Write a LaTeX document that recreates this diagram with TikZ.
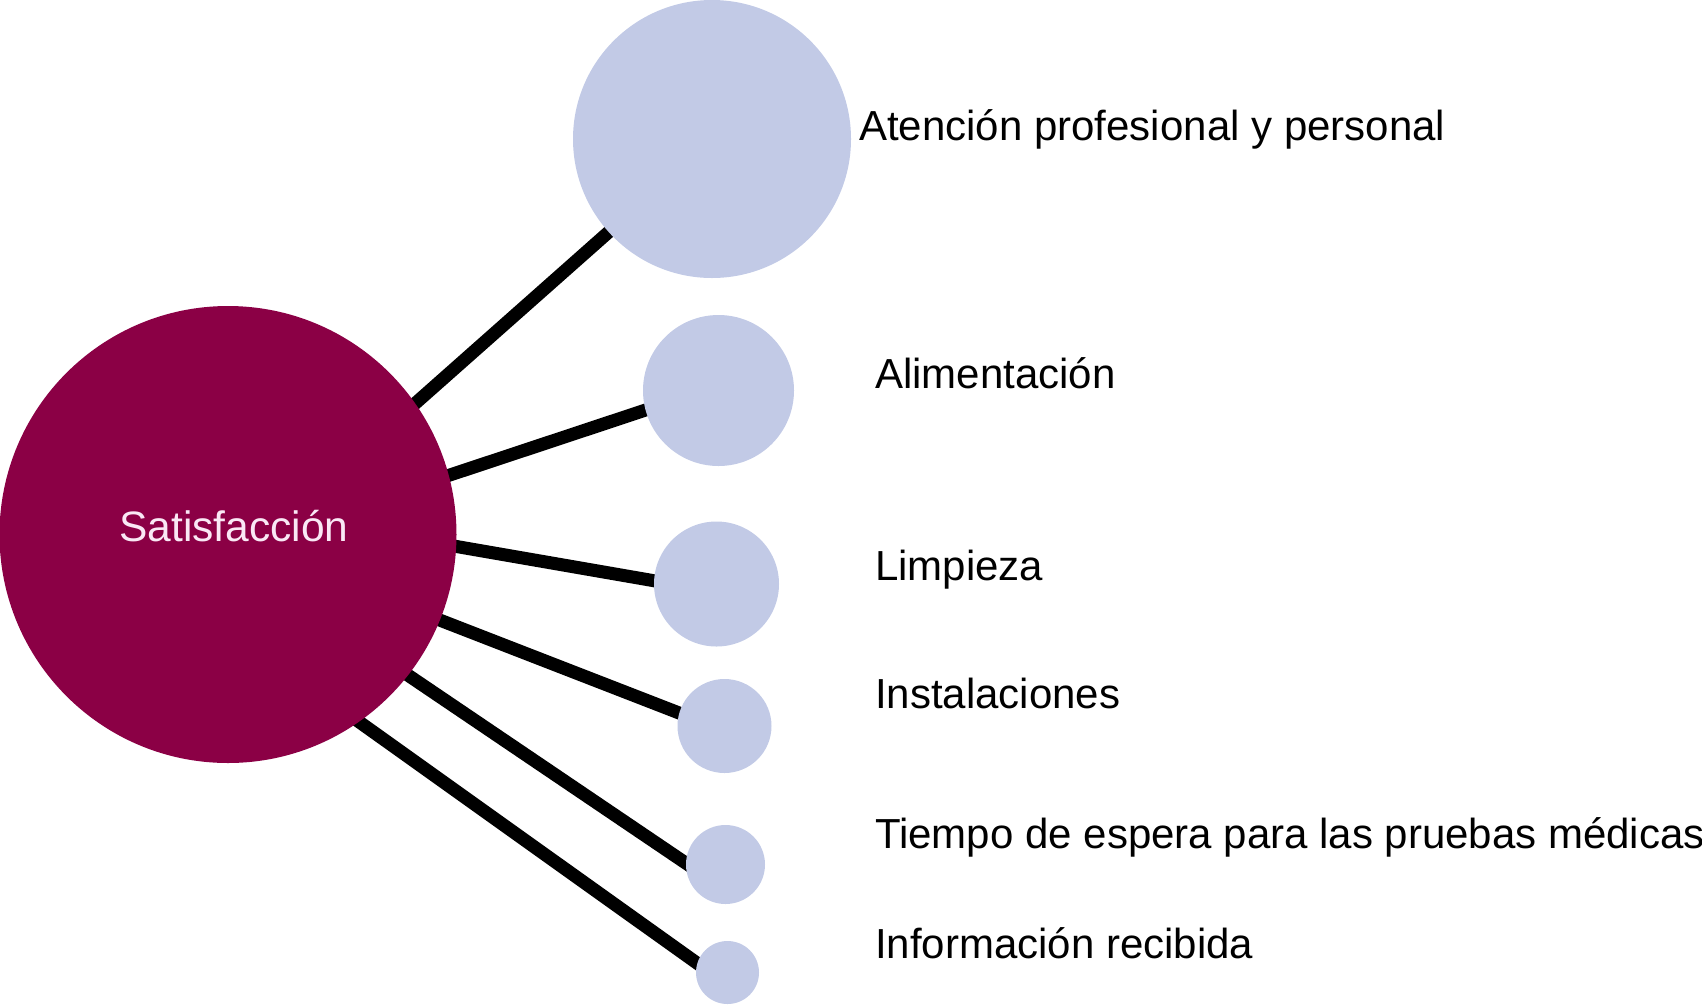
\documentclass[tikz,border=0pt]{standalone}
\usepackage{fontspec}
\setmainfont{Liberation Sans}
\usetikzlibrary{backgrounds}
\definecolor{maroonc}{RGB}{139,0,69}
\definecolor{bluec}{RGB}{194,202,230}
\definecolor{pinktext}{RGB}{250,232,245}
\begin{document}
\begin{tikzpicture}[x=1pt,y=-1pt,
  hub/.style={circle,fill=maroonc,draw=none,inner sep=0pt,minimum size=#1},
  leaf/.style={circle,fill=bluec,draw=none,inner sep=0pt,minimum size=#1},
  lbl/.style={anchor=base west,inner sep=0pt,font=\fontsize{42}{50}\selectfont,text=black},
  spoke/.style={line width=13pt,draw=black,shorten <=-7pt,shorten >=-7pt}]
\useasboundingbox (0,0) rectangle (1702,1005);
\node[hub=457pt] (sat) at (228,534.5) {};
\node[anchor=base,inner sep=0pt,font=\fontsize{42.5}{50}\selectfont,text=pinktext] (satl) at (234,541) {Satisfacción};
\node[leaf=278pt] (a1) at (712,139) {};
\node[leaf=151pt] (a2) at (718.5,390.5) {};
\node[leaf=125pt] (a3) at (716.5,584) {};
\node[leaf=94pt] (a4) at (724.5,726) {};
\node[leaf=79pt] (a5) at (725.5,864.5) {};
\node[leaf=63pt] (a6) at (727.5,972.5) {};
\begin{scope}[on background layer]
\draw[spoke] (sat.35) -- (a1.222);
\draw[spoke] (sat.15.7) -- (a2.195);
\draw[spoke] (sat.-3.1) -- (a3.177);
\draw[spoke] (sat.-22.7) -- (a4.164);
\draw[spoke] (sat.-38) -- (a5.178);
\draw[spoke] (sat.-55.9) -- (a6.163);
\end{scope}
\node[lbl] (t1) at (859,140) {Atención profesional y personal};
\node[lbl] (t2) at (875,388) {Alimentación};
\node[lbl] (t3) at (875,580) {Limpieza};
\node[lbl] (t4) at (875,708.5) {Instalaciones};
\node[lbl] (t5) at (875,848) {Tiempo de espera para las pruebas médicas};
\node[lbl] (t6) at (875,958) {Información recibida};
\end{tikzpicture}
\end{document}
